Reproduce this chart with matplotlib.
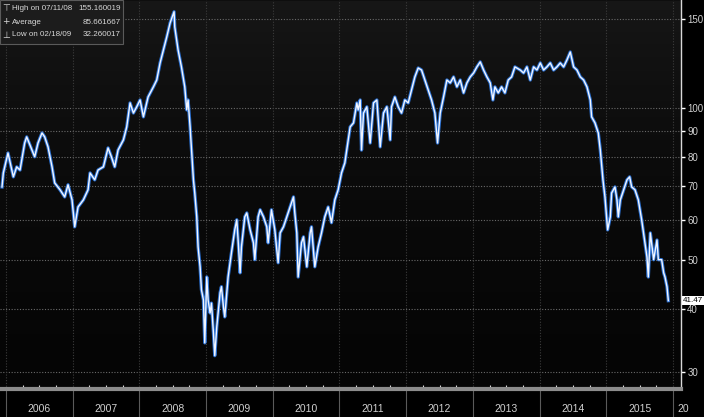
import numpy as np
import matplotlib
matplotlib.use("Agg")
import matplotlib.pyplot as plt
import matplotlib.transforms as mtransforms
from matplotlib.patches import Rectangle

# price path (decimal year, value)
years = [
    2005.94, 2005.96, 2006.03, 2006.11, 2006.16, 2006.21, 2006.28, 2006.31, 2006.39, 2006.43,
    2006.48, 2006.54, 2006.58, 2006.63, 2006.69, 2006.73, 2006.81, 2006.88, 2006.93, 2006.99,
    2007.03, 2007.08, 2007.16, 2007.23, 2007.26, 2007.33, 2007.38, 2007.46, 2007.53, 2007.58,
    2007.63, 2007.68, 2007.76, 2007.81, 2007.86, 2007.91, 2007.96, 2008.01, 2008.06, 2008.13,
    2008.21, 2008.26, 2008.31, 2008.36, 2008.41, 2008.46, 2008.52, 2008.53, 2008.58, 2008.63,
    2008.68, 2008.71, 2008.73, 2008.76, 2008.81, 2008.83, 2008.86, 2008.88, 2008.91, 2008.93,
    2008.96, 2008.98, 2009.01, 2009.03, 2009.06, 2009.08, 2009.11, 2009.13, 2009.16, 2009.21,
    2009.23, 2009.26, 2009.28, 2009.33, 2009.38, 2009.43, 2009.46, 2009.48, 2009.51, 2009.53,
    2009.58, 2009.61, 2009.66, 2009.71, 2009.73, 2009.78, 2009.81, 2009.86, 2009.91, 2009.93,
    2009.98, 2010.03, 2010.08, 2010.11, 2010.16, 2010.21, 2010.26, 2010.31, 2010.33, 2010.36,
    2010.38, 2010.43, 2010.46, 2010.51, 2010.56, 2010.58, 2010.63, 2010.68, 2010.73, 2010.78,
    2010.83, 2010.88, 2010.93, 2010.98, 2011.03, 2011.08, 2011.16, 2011.21, 2011.26, 2011.28,
    2011.31, 2011.33, 2011.36, 2011.41, 2011.46, 2011.51, 2011.56, 2011.61, 2011.66, 2011.71,
    2011.76, 2011.78, 2011.83, 2011.88, 2011.93, 2011.98, 2012.03, 2012.08, 2012.13, 2012.18,
    2012.23, 2012.28, 2012.33, 2012.38, 2012.43, 2012.47, 2012.51, 2012.56, 2012.61, 2012.66,
    2012.71, 2012.76, 2012.81, 2012.86, 2012.91, 2012.96, 2013.01, 2013.06, 2013.11, 2013.16,
    2013.21, 2013.26, 2013.30, 2013.33, 2013.38, 2013.43, 2013.48, 2013.53, 2013.58, 2013.63,
    2013.71, 2013.76, 2013.81, 2013.86, 2013.91, 2013.96, 2014.01, 2014.06, 2014.11, 2014.16,
    2014.21, 2014.26, 2014.31, 2014.36, 2014.41, 2014.46, 2014.51, 2014.56, 2014.61, 2014.66,
    2014.71, 2014.76, 2014.78, 2014.83, 2014.88, 2014.91, 2014.95, 2014.98, 2015.02, 2015.06,
    2015.08, 2015.13, 2015.16, 2015.18, 2015.21, 2015.26, 2015.31, 2015.35, 2015.38, 2015.43,
    2015.48, 2015.53, 2015.58, 2015.61, 2015.63, 2015.66, 2015.71, 2015.76, 2015.78, 2015.83,
    2015.86, 2015.88, 2015.91, 2015.93,
]
prices = [
    69.7, 74.3, 81.4, 73.0, 76.4, 75.3, 85.2, 87.6, 82.5, 80.0,
    85.2, 89.2, 87.6, 83.7, 76.4, 71.0, 68.8, 66.6, 70.4, 65.7,
    58.1, 63.6, 65.7, 68.8, 74.3, 72.0, 75.3, 76.4, 83.3, 80.0,
    76.4, 82.5, 86.4, 91.7, 102.3, 97.7, 100.5, 103.7, 96.0, 105.1,
    110.1, 113.6, 122.8, 130.3, 138.3, 147.4, 155.16, 144.8, 130.3, 120.6,
    110.1, 99.1, 103.7, 91.7, 72.0, 67.8, 60.8, 53.0, 48.4, 43.6,
    41.6, 34.2, 46.2, 41.6, 39.2, 41.0, 35.8, 32.26, 36.8, 43.0,
    44.2, 40.3, 38.5, 46.2, 51.6, 57.3, 60.0, 54.7, 47.1, 53.0,
    60.8, 61.9, 57.3, 54.0, 50.0, 60.8, 62.8, 60.8, 58.1, 54.0,
    62.8, 57.3, 49.3, 56.5, 58.1, 60.8, 63.6, 66.6, 61.9, 56.5,
    46.2, 54.0, 55.5, 48.4, 56.5, 58.1, 48.4, 53.0, 56.5, 60.8,
    63.6, 59.2, 65.7, 68.8, 74.3, 77.8, 91.7, 93.4, 102.3, 99.1,
    103.7, 82.5, 97.7, 100.5, 85.2, 102.3, 103.7, 83.7, 97.7, 100.5,
    86.4, 100.5, 105.1, 100.5, 97.7, 103.7, 102.3, 108.6, 115.2, 120.0,
    118.9, 113.6, 108.6, 103.7, 97.7, 85.2, 97.7, 105.1, 113.6, 112.1,
    115.2, 110.1, 113.6, 107.1, 112.1, 115.2, 117.3, 120.6, 123.4, 118.9,
    115.2, 112.1, 103.7, 110.1, 107.1, 110.1, 107.1, 113.6, 115.2, 120.6,
    118.9, 117.3, 120.6, 113.6, 120.6, 118.9, 122.8, 118.9, 120.6, 122.8,
    118.9, 120.6, 122.8, 120.6, 124.5, 129.1, 120.6, 118.9, 115.2, 113.6,
    110.1, 103.7, 96.0, 93.4, 89.2, 82.5, 72.0, 66.6, 57.3, 60.8,
    67.8, 69.7, 65.7, 60.8, 65.7, 68.8, 72.0, 73.0, 69.7, 68.8,
    65.7, 60.0, 54.0, 50.6, 46.2, 56.5, 50.0, 54.7, 50.0, 50.0,
    47.1, 46.2, 44.2, 41.47,
]

year_labels = ["2006", "2007", "2008", "2009", "2010", "2011", "2012", "2013", "2014", "2015"]
y_ticks = [30, 40, 50, 60, 70, 80, 90, 100, 150]

legend_names = ["High on 07/11/08", "Average", "Low on 02/18/09"]
legend_values = ["155.160019", "85.661667", "32.260017"]
legend_marks = ["\u22a4", "+", "\u22a5"]
last_value = 41.47

plt.rcParams["font.family"] = ["Liberation Sans", "DejaVu Sans"]

W, H = 704, 417
fig = plt.figure(figsize=(W / 100, H / 100), dpi=100, facecolor="black")
ax = fig.add_axes([0, 1 - 389 / H, 681 / W, 389 / H])
ax.set_facecolor("#0e0e0e")

x_min, x_max = 2005.91, 2016.12
y_min, y_max = 27.7, 163.7

# dark vertical gradient behind the plot
grad = np.linspace(0, 1, 256).reshape(-1, 1)
ax.imshow(grad, extent=[x_min, x_max, y_min, y_max], aspect="auto",
          cmap=matplotlib.colors.LinearSegmentedColormap.from_list("bg", ["#171717", "#050505"]),
          origin="upper", zorder=0)

ax.set_yscale("log")
ax.set_xlim(x_min, x_max)
ax.set_ylim(y_min, y_max)

# grid
for v in y_ticks:
    ax.axhline(v, color="#6a6a6a", lw=0.8, ls=(0, (1, 1.5)), zorder=1)
for yr in range(2006, 2017):
    ax.axvline(yr, color="#3c3c3c", lw=0.8, ls=(0, (1, 1.5)), zorder=1)

# price line: blue glow under white core
ax.plot(years, prices, color="#2a6fd0", lw=2.4, zorder=3)
ax.plot(years, prices, color="#f2f6ff", lw=1.0, zorder=4)

# y axis on the right
ax.yaxis.tick_right()
ax.set_yticks(y_ticks)
ax.set_yticklabels([str(v) for v in y_ticks])
ax.yaxis.set_minor_locator(matplotlib.ticker.NullLocator())
ax.tick_params(axis="y", which="major", direction="out", length=3, width=1,
               color="white", labelcolor="#d0d0d0", labelsize=7, pad=1.5)

# x axis: year separators below, quarter marks inside
ax.set_xticks(range(2006, 2017))
ax.set_xticklabels([])
ax.set_xticks([yr + q / 4 for yr in range(2005, 2016) for q in (1, 2, 3)
               if x_min < yr + q / 4 < x_max], minor=True)
ax.tick_params(axis="x", which="major", direction="out", length=21, width=0.8, color="#5a5a5a")
ax.tick_params(axis="x", which="minor", direction="in", length=3, width=0.8, color="#dddddd")

trans = mtransforms.blended_transform_factory(ax.transData, ax.transAxes)
for i, lab in enumerate(year_labels):
    ax.text(2006 + i + 0.5, -0.052, lab, transform=trans, ha="center", va="center",
            color="#d0d0d0", fontsize=7.5, clip_on=False)
ax.text(2016.06, -0.052, "20", transform=trans, ha="left", va="center",
        color="#d0d0d0", fontsize=7.5, clip_on=False)

for side in ("top", "left"):
    ax.spines[side].set_visible(False)
ax.spines["bottom"].set_color("#8c8c8c")
ax.spines["bottom"].set_linewidth(3)
ax.spines["right"].set_color("#d8d8d8")
ax.spines["right"].set_linewidth(1)

# last value tag
ytrans = mtransforms.blended_transform_factory(ax.transAxes, ax.transData)
ax.text(1.003, last_value, f"{last_value:.2f}", transform=ytrans, ha="left", va="center",
        color="black", fontsize=5.8, clip_on=False, zorder=10,
        bbox=dict(boxstyle="square,pad=0.12", fc="white", ec="none"))

# legend box top-left
fig.patches.append(Rectangle((0, 1 - 44 / H), 123 / W, 44 / H, transform=fig.transFigure,
                             facecolor="#1c1c1c", edgecolor="#5a5a5a", lw=0.8, zorder=5))
for i in range(3):
    yy = 1 - (9 + 13 * i) / H
    fig.text(6 / W, yy, legend_marks[i], color="#d8d8d8", fontsize=6.5, ha="center", va="center",
             family=["DejaVu Sans"], zorder=6)
    fig.text(12 / W, yy, legend_names[i], color="#d8d8d8", fontsize=5.8, ha="left", va="center",
             zorder=6)
    fig.text(121 / W, yy, legend_values[i], color="#d8d8d8", fontsize=5.8, ha="right", va="center",
             zorder=6)

fig.savefig("out.png", dpi=100, facecolor="black")
